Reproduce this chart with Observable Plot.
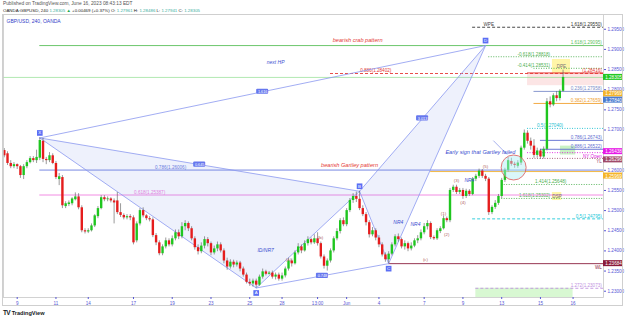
<!DOCTYPE html>
<html><head><meta charset="utf-8">
<script src="https://cdn.jsdelivr.net/npm/d3@7"></script>
<script src="https://cdn.jsdelivr.net/npm/@observablehq/plot@0.6"></script>
<style>
html,body{margin:0;padding:0;background:#fff}
body{width:625px;height:319px;overflow:hidden;position:relative;font-family:"Liberation Sans",Arial,sans-serif}
#hdr{position:relative;height:13px}
#hdr div{position:absolute;left:3px;white-space:nowrap;line-height:5px}
.v{color:#3aaea0}
#chart{position:absolute;left:0;top:13px}
#frame{position:absolute;left:2px;top:14px;width:621px;height:292px;border:1px solid #cfcfcf;box-sizing:border-box;pointer-events:none}
#ftr{position:absolute;left:3px;top:309px;font-size:5.6px;font-weight:bold;color:#131722;white-space:nowrap}
</style></head><body>
<div id="hdr"><div id="h1" style="top:1px;color:#555;font-size:4.8px"></div><div id="h2" style="top:7.5px;color:#222;font-size:4.4px"></div></div>
<div id="chart"></div>
<div id="frame"></div>
<div id="ftr"><span style="font-size:6.5px;letter-spacing:-0.6px">TV</span> TradingView</div>
<script>
// ---------- candle data (bar index, 4h bars; 0 = May 9) ----------
const barIndex = d3.range(-4, 170);
const opens = [1.2649,1.2641,1.2617,1.2609,1.2614,1.2609,1.2587,1.2609,1.2619,1.2629,1.2624,1.2630,1.2672,1.2627,1.2624,1.2636,1.2617,1.2577,1.2582,1.2510,1.2515,1.2517,1.2527,1.2534,1.2507,1.2450,1.2447,1.2450,1.2462,1.2485,1.2505,1.2532,1.2527,1.2529,1.2524,1.2524,1.2495,1.2488,1.2482,1.2485,1.2482,1.2425,1.2467,1.2500,1.2487,1.2480,1.2477,1.2438,1.2420,1.2393,1.2410,1.2425,1.2415,1.2430,1.2445,1.2435,1.2460,1.2468,1.2455,1.2430,1.2408,1.2398,1.2412,1.2428,1.2418,1.2395,1.2405,1.2415,1.2400,1.2375,1.2360,1.2372,1.2365,1.2370,1.2355,1.2340,1.2322,1.2318,1.2325,1.2315,1.2335,1.2348,1.2342,1.2345,1.2335,1.2340,1.2330,1.2338,1.2355,1.2375,1.2368,1.2395,1.2410,1.2400,1.2418,1.2428,1.2420,1.2430,1.2418,1.2385,1.2362,1.2375,1.2400,1.2430,1.2448,1.2475,1.2465,1.2500,1.2525,1.2535,1.2528,1.2505,1.2490,1.2470,1.2440,1.2450,1.2432,1.2415,1.2390,1.2378,1.2392,1.2415,1.2435,1.2428,1.2410,1.2418,1.2405,1.2412,1.2425,1.2430,1.2445,1.2460,1.2468,1.2433,1.2430,1.2448,1.2455,1.2480,1.2475,1.2550,1.2558,1.2545,1.2550,1.2535,1.2548,1.2540,1.2578,1.2585,1.2598,1.2585,1.2578,1.2495,1.2508,1.2518,1.2535,1.2575,1.2600,1.2622,1.2615,1.2610,1.2618,1.2655,1.2692,1.2672,1.2660,1.2637,1.2648,1.2633,1.2652,1.2770,1.2762,1.2785,1.2778,1.27961];
const highs = [1.2654,1.2646,1.2624,1.2619,1.2616,1.2612,1.2614,1.2624,1.2634,1.2634,1.2650,1.26803,1.2679,1.2632,1.2644,1.2641,1.2622,1.2592,1.2587,1.2522,1.2524,1.2532,1.2544,1.2542,1.2512,1.2455,1.2455,1.2467,1.2490,1.2510,1.2537,1.2537,1.2534,1.2532,1.2529,1.2545,1.2517,1.2492,1.2490,1.2490,1.2487,1.2472,1.2505,1.2507,1.2490,1.2485,1.2482,1.2443,1.2425,1.2415,1.2432,1.2430,1.2437,1.2452,1.2452,1.2470,1.2475,1.2472,1.2460,1.2435,1.2415,1.2420,1.2435,1.2433,1.2422,1.2412,1.2422,1.2420,1.2405,1.2382,1.2378,1.2377,1.2375,1.2374,1.2360,1.2345,1.2330,1.2330,1.2330,1.2340,1.2355,1.2352,1.2349,1.2350,1.2345,1.2345,1.2345,1.2360,1.2382,1.2380,1.2400,1.2418,1.2415,1.2425,1.2435,1.2432,1.2440,1.2445,1.2422,1.2390,1.2380,1.2405,1.2435,1.2455,1.2480,1.2482,1.2505,1.2530,1.2542,1.2546,1.2548,1.2512,1.2495,1.2475,1.2458,1.2455,1.2438,1.2420,1.2395,1.2398,1.2420,1.2440,1.2442,1.2432,1.2425,1.2422,1.2420,1.2430,1.2438,1.2452,1.2468,1.2475,1.2472,1.2437,1.2455,1.2460,1.2487,1.2484,1.2555,1.2563,1.2563,1.2555,1.2555,1.2553,1.2552,1.2582,1.2590,1.2603,1.2602,1.2590,1.2582,1.2512,1.2525,1.2540,1.2580,1.2605,1.2632,1.2630,1.2620,1.2624,1.2660,1.2700,1.2698,1.2680,1.2676,1.2655,1.2652,1.2658,1.2778,1.2782,1.2790,1.2795,1.2800,1.28486];
const lows = [1.2631,1.2612,1.2604,1.2604,1.2602,1.2580,1.2577,1.2604,1.2616,1.2619,1.2617,1.2624,1.2619,1.2614,1.2619,1.2614,1.2577,1.2562,1.2505,1.2505,1.2510,1.2512,1.2524,1.2502,1.2445,1.2442,1.2443,1.2447,1.2458,1.2480,1.2502,1.2522,1.2522,1.2519,1.2467,1.2490,1.2483,1.2477,1.2477,1.2475,1.2415,1.2420,1.2462,1.2482,1.2475,1.2472,1.2433,1.2413,1.2388,1.2388,1.2405,1.2410,1.2410,1.2425,1.2428,1.2430,1.2450,1.2448,1.2425,1.2402,1.2390,1.2393,1.2405,1.2410,1.2388,1.2390,1.2398,1.2395,1.2368,1.2352,1.2355,1.2358,1.2360,1.2348,1.2335,1.2318,1.2312,1.2310,1.23080,1.2312,1.2330,1.2338,1.2340,1.2330,1.2328,1.2325,1.2325,1.2333,1.2350,1.2360,1.2365,1.2390,1.2393,1.2397,1.2412,1.2415,1.2416,1.2412,1.2380,1.2355,1.2350,1.2370,1.2395,1.2425,1.2442,1.2460,1.2460,1.2495,1.2518,1.2520,1.2500,1.2485,1.2462,1.2432,1.2435,1.2425,1.2408,1.2385,1.2372,1.23684,1.2388,1.2410,1.2422,1.2405,1.2402,1.2398,1.2400,1.2408,1.2418,1.2425,1.2440,1.2452,1.2428,1.2426,1.2426,1.2443,1.2452,1.2470,1.2470,1.2545,1.2540,1.2540,1.2528,1.2530,1.2535,1.2537,1.2572,1.2580,1.2580,1.2572,1.2488,1.2490,1.2503,1.2513,1.2530,1.2570,1.2595,1.2610,1.2605,1.2605,1.2612,1.2650,1.2665,1.2650,1.2630,1.2630,1.2627,1.2628,1.2648,1.2755,1.2758,1.2770,1.2772,1.27941];
const closes = [1.2636,1.2617,1.2609,1.2614,1.2609,1.2587,1.2609,1.2619,1.2629,1.2624,1.2632,1.2674,1.2627,1.2624,1.2636,1.2617,1.2582,1.2584,1.2512,1.2517,1.2519,1.2529,1.2534,1.2507,1.2450,1.2447,1.2450,1.2462,1.2487,1.2505,1.2532,1.2527,1.2529,1.2524,1.2519,1.2495,1.2488,1.2482,1.2485,1.2482,1.2420,1.2467,1.2500,1.2487,1.2480,1.2477,1.2438,1.2420,1.2393,1.2410,1.2425,1.2415,1.2430,1.2445,1.2435,1.2460,1.2468,1.2455,1.2430,1.2408,1.2398,1.2412,1.2428,1.2418,1.2395,1.2405,1.2415,1.2400,1.2375,1.2360,1.2372,1.2365,1.2370,1.2355,1.2340,1.2322,1.2318,1.2325,1.2315,1.2335,1.2348,1.2342,1.2345,1.2335,1.2340,1.2330,1.2338,1.2355,1.2375,1.2368,1.2395,1.2410,1.2400,1.2418,1.2428,1.2420,1.2430,1.2418,1.2385,1.2362,1.2375,1.2400,1.2430,1.2448,1.2475,1.2465,1.2500,1.2525,1.2535,1.2528,1.2505,1.2490,1.2470,1.2440,1.2450,1.2432,1.2415,1.2390,1.2378,1.2392,1.2415,1.2435,1.2428,1.2410,1.2418,1.2405,1.2412,1.2425,1.2430,1.2445,1.2460,1.2468,1.2433,1.2430,1.2450,1.2455,1.2480,1.2475,1.2550,1.2558,1.2545,1.2550,1.2535,1.2548,1.2540,1.2578,1.2585,1.2598,1.2585,1.2578,1.2495,1.2508,1.2518,1.2535,1.2575,1.2600,1.2624,1.2615,1.2612,1.2618,1.2655,1.2692,1.2672,1.2660,1.2637,1.2648,1.2633,1.2652,1.2770,1.2762,1.2785,1.2778,1.2796,1.28305];

// ---------- axis ticks (1.26500 is hidden behind the price tags in the original) ----------
const priceTicks = [1.23,1.235,1.24,1.245,1.25,1.255,1.26,1.27,1.275,1.28,1.285,1.29,1.295];
const timeTickIdx = [0,12,22,36,48,60,72,82,93,102,112,126,138,150,162,172.1];
const timeTickLabels = ["9","11","14","17","19","23","25","28","13:00","Jun","4","7","9","13","15","16"];

// ---------- harmonic pattern points ----------
const ptName = ["X","A","B","C","D"];
const ptIdx = [7,74,106,115,145];
const ptPrice = [1.26803,1.23080,1.25480,1.23684,1.29095];
const ratioText = ["0.645","0.748","3.013","1.616"]; // XB, AC, BD, XD

// ---------- horizontal levels ----------
const levelLabels = ["1.618(1.29550)","1.618(1.29095)","-0.618(1.28818)","-0.414(1.28531)","0.886(1.28402)","(1.28416)","","0.236(1.27958)","0.382(1.27659)","0.5(1.27040)","0.786(1.26743)","0.886(1.26522)","NY Open","YL","0.786(1.26006)","","1.414(1.25648)","1.618(1.25302)","0.618(1.25387)","0.5(1.24795)","WL","1.272(1.23073)"];
const levelPrices = [1.29550,1.29095,1.28818,1.28531,1.28402,1.28416,1.28305,1.27958,1.27659,1.27040,1.26743,1.26522,1.26438,1.26296,1.26006,1.25969,1.25648,1.25302,1.25387,1.24795,1.23684,1.23073];
const levelStart = [141,7,146,160,97,158,-4.24,160,160,158,162,162,158,158,7,128,150,150,7,141,115,142];
const levelTextAt = [181,181,165,165,111,181,181,181,181,169,181,181,181,181,47.5,181,170,165,41,181,181,181];
// styles (parallel)
const levelColor = ["#333","#5cbf5c","#4caf50","#4caf50","#e53935","#e53935","#8fe08f","#7a8cc8","#f0a030","#1ec0d0","#5c6bd0","#5c6bd0","#e020e0","#a05070","#6a7ae0","#f0b030","#4caf50","#4caf50","#f080e0","#20c8d8","#8b2040","#c090e0"];
const levelDash = ["3,2",null,"1,1.5","1,1.5","3,2",null,null,null,null,"1,1.5",null,null,"1,1.5","1,1.5",null,null,"1,1.5","1,1.5",null,"3,2",null,"3,2"];
const levelAnchor = ["end","end","end","end","middle","end","end","end","end","end","end","end","end","end","middle","end","end","end","middle","end","end","end"];
const levelTextDy = [-2.6,-2.6,-2.6,-2.6,-2.6,-2.6,-2.6,-2.6,-2.6,-2.6,-2.6,-2.6,3.6,3.6,-2.6,-2.6,-2.6,-2.6,-2.6,-2.6,3.8,-2.6];

// ---------- boxes ----------
const boxNames = ["DPE","DSP","","",""];
const boxI1 = [165.7,165.7,168.2,158,142];
const boxI2 = [171.3,168.6,172.9,181.52,172.1];
const boxP1 = [1.2838,1.2525,1.2638,1.2810,1.22844];
const boxP2 = [1.2875,1.2545,1.2660,1.2842,1.23073];
const boxFill = ["#fff5a8","#fff5a8","#c9f2c4","rgba(240,110,110,0.18)","#d8f8d2"];

// ---------- axis price tags ----------
const tagPrices = [1.28305,1.27969,1.27840,1.26438,1.26296,1.25969,1.23684];
const tagColors = ["#22c822","#f5b52a","#4c7ccf","#e619e6","#a04a6a","#f5b52a","#8b1a3a"];
const tagShift = [0,3,4,-1,1.5,4.5,0]; // px, tags pushed apart as on the original axis

// ---------- notes ----------
const noteText = ["bearish crab pattern","next HP","bearish Gartley pattern","Early sign that Gartley failed","ID/NR7","NR4","NR4","NR4"];
const noteIdx = [105.4,80,102.9,143.4,76.9,118,123.3,140];
const notePrice = [1.29221,1.28672,1.26119,1.26442,1.24008,1.24702,1.24653,1.25747];
const noteColor = ["#e53935","#4050d0","#e53935","#4050d0","#4050d0","#4050d0","#4050d0","#4050d0"];
const waveText = ["(1)","(2)","(3)","(4)","(5)","(a)","(b)","(c)"];
const waveIdx = [132,133,136,138,145,84,93.9,126.4];
const wavePrice = [1.2492,1.2440,1.2575,1.2520,1.2609,1.23784,1.24330,1.23784];
const circleCenter = {i:153.7, p:1.2607};
const pointer = [{i:147.5,p:1.2673},{i:151.6,p:1.2640}];

// ---------- header ----------
const last = {o:opens.at(-1),h:highs.at(-1),l:lows.at(-1),c:closes.at(-1)};
document.getElementById("h1").textContent = "Published on TradingView.com, June 16, 2023 08:43:13 EDT";
document.getElementById("h2").innerHTML = `OANDA:GBPUSD, 240 <span class="v">${last.c.toFixed(5)}</span> <span style="color:#22a84a">▲</span> +0.00469 (+0.37%) O: <span class="v">${last.o.toFixed(5)}</span> H: <span class="v">${last.h.toFixed(5)}</span> L: <span class="v">${last.l.toFixed(5)}</span> C: <span class="v">${last.c.toFixed(5)}</span>`;

// ---------- build ----------
const XMIN=-4.24, XMAX=181.52;
const UP="#1fc61f", DOWN="#e51d1d";
const bars = barIndex.map((i,k)=>({i,o:opens[k],h:highs[k],l:lows[k],c:closes[k]}));
const P = ptName.map((n,k)=>({n,i:ptIdx[k],p:ptPrice[k]}));
const [X,A,B,C,D] = P;
const mid = (a,b,t)=>({i:(a.i+b.i)/2,p:(a.p+b.p)/2,t});
const mids = [mid(X,B,ratioText[0]),mid(A,C,ratioText[1]),mid(B,D,ratioText[2]),mid(X,D,ratioText[3])];
const levels = levelLabels.map((t,k)=>({t,p:levelPrices[k],s:levelStart[k],ta:levelTextAt[k],col:levelColor[k],dash:levelDash[k],anc:levelAnchor[k],dy:levelTextDy[k]}));
const boxes = boxNames.map((t,k)=>({t,i1:boxI1[k],i2:boxI2[k],p1:boxP1[k],p2:boxP2[k],f:boxFill[k]}));
const tags = tagPrices.map((p,k)=>({p,col:tagColors[k],t:p.toFixed(5),sh:tagShift[k]}));
const notes = noteText.map((t,k)=>({t,i:noteIdx[k],p:notePrice[k],col:noteColor[k]}));
const waves = waveText.map((t,k)=>({t,i:waveIdx[k],p:wavePrice[k]}));
const timeMap = new Map(timeTickIdx.map((d,k)=>[d,timeTickLabels[k]]));
const FONT = "Liberation Sans, Arial, sans-serif";
const axisCol = "#5656d6";

const marks = [];
marks.push(Plot.rect(boxes,{x1:"i1",x2:"i2",y1:"p1",y2:"p2",fill:"f"}));
for (const L of levels) {
  marks.push(Plot.ruleY([L],{y:"p",x1:"s",x2:()=>XMAX,stroke:L.col,strokeWidth:L.t===""&&L.p===1.28305?0.7:0.9,strokeDasharray:L.dash||undefined}));
  if (L.t) marks.push(Plot.text([L],{x:"ta",y:"p",text:"t",fill:L.col,textAnchor:L.anc,dy:L.dy,fontSize:4.6,fontFamily:FONT}));
}
marks.push(Plot.text(boxes.filter(b=>b.t),{x:b=>(b.i1+b.i2)/2,y:b=>(b.p1+b.p2)/2,text:"t",fill:"#777",fontSize:4.6,fontFamily:FONT}));
marks.push(Plot.text([{t:"WPE",i:146,p:1.29550}],{x:"i",y:"p",text:"t",fill:"#444",dy:-3,fontSize:4.6,fontFamily:FONT}));
// pattern
marks.push(Plot.line([X,A,B,X],{x:"i",y:"p",fill:"rgba(120,150,230,0.13)",stroke:"#8a98f0",strokeWidth:0.8}));
marks.push(Plot.line([B,C,D,B],{x:"i",y:"p",fill:"rgba(120,150,230,0.13)",stroke:"#8a98f0",strokeWidth:0.8}));
marks.push(Plot.line([X,D],{x:"i",y:"p",stroke:"#8a98f0",strokeWidth:0.8}));
marks.push(Plot.line([A,C],{x:"i",y:"p",stroke:"#8a98f0",strokeWidth:0.8}));
// candles
marks.push(Plot.ruleX(bars,{x:"i",y1:"l",y2:"h",stroke:"#555",strokeWidth:0.6}));
marks.push(Plot.ruleX(bars,{x:"i",y1:"o",y2:"c",stroke:d=>d.c>=d.o?UP:DOWN,strokeWidth:2.4}));
// ratio labels
marks.push(Plot.rect(mids,{x1:"i",x2:"i",y1:"p",y2:"p",insetLeft:-6,insetRight:-6,insetTop:-2.6,insetBottom:-2.6,fill:"#6677ee",rx:1}));
marks.push(Plot.text(mids,{x:"i",y:"p",text:"t",fill:"#fff",fontSize:3.8,fontFamily:FONT}));
// point labels
const above = [X,B,D], below=[A,C];
marks.push(Plot.dot(above,{x:"i",y:"p",dy:-5,r:3.2,symbol:"square",fill:"#5b6ef5"}));
marks.push(Plot.dot(below,{x:"i",y:"p",dy:5,r:3.2,symbol:"square",fill:"#5b6ef5"}));
marks.push(Plot.text(above,{x:"i",y:"p",dy:-5,text:"n",fill:"#fff",fontSize:4.4,fontFamily:FONT}));
marks.push(Plot.text(below,{x:"i",y:"p",dy:5,text:"n",fill:"#fff",fontSize:4.4,fontFamily:FONT}));
// circle + pointer
marks.push(Plot.line(pointer,{x:"i",y:"p",stroke:"#6a7ae0",strokeWidth:0.6}));
marks.push(Plot.dot([circleCenter],{x:"i",y:"p",r:12.5,stroke:"#e05555",strokeWidth:0.8,fill:"#aeeef4",fillOpacity:0.45}));
// notes
marks.push(Plot.text(notes,{x:"i",y:"p",text:"t",fill:"col",fontStyle:"italic",fontSize:d=>d.t.length>10?5.6:5,fontFamily:FONT}));
marks.push(Plot.text(waves,{x:"i",y:"p",text:"t",fill:"#b0605a",fontSize:4.4,fontFamily:FONT}));
marks.push(Plot.text(["GBP/USD, 240, OANDA"],{frameAnchor:"top-left",dx:3,dy:4.5,fill:"#3340c8",fontSize:5,fontFamily:FONT}));
// frame + axes
marks.push(Plot.frame({stroke:"#c8c8c8",strokeWidth:0.8}));
marks.push(Plot.axisY(priceTicks,{anchor:"right",tickFormat:d=>d.toFixed(5),tickSize:2,tickPadding:2,fontSize:4.6,color:axisCol,label:null,fontFamily:FONT}));
marks.push(Plot.axisX(timeTickIdx,{anchor:"bottom",tickFormat:d=>timeMap.get(d),tickSize:2,tickPadding:2,fontSize:4.6,color:axisCol,label:null,fontFamily:FONT}));
// price tags
for (const T of tags) {
  marks.push(Plot.rect([T],{x1:()=>XMAX,x2:()=>XMAX,y1:"p",y2:"p",insetLeft:0,insetRight:-19.5,insetTop:-3+T.sh,insetBottom:-3-T.sh,fill:"col"}));
  marks.push(Plot.text([T],{x:()=>XMAX,y:"p",dx:10,dy:T.sh,text:"t",fill:"#fff",fontSize:4.6,fontFamily:FONT}));
}

const chart = Plot.plot({
  width:625, height:296,
  marginTop:1, marginBottom:12, marginLeft:3, marginRight:22,
  x:{type:"linear",domain:[XMIN,XMAX],axis:null},
  y:{type:"linear",domain:[1.22844,1.29866],axis:null},
  style:{background:"#fff",fontFamily:FONT,fontSize:"5px",overflow:"visible"},
  marks
});
document.getElementById("chart").appendChild(chart);
</script>
</body></html>
